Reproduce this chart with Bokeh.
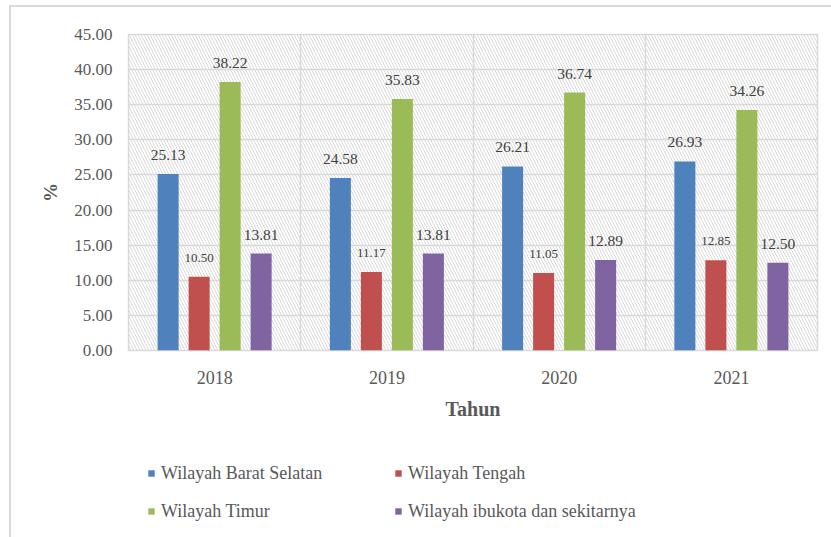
from bokeh.plotting import figure
from bokeh.layouts import column
from bokeh.models import (ColumnDataSource, LabelSet, Legend, LegendItem, BoxAnnotation,
                          FixedTicker, NumeralTickFormatter)
from bokeh.transform import dodge
from bokeh.embed import file_html
from bokeh.resources import INLINE

years = ["2018", "2019", "2020", "2021"]
barat_selatan = [25.13, 24.58, 26.21, 26.93]
tengah = [10.50, 11.17, 11.05, 12.85]
timur = [38.22, 35.83, 36.74, 34.26]
ibukota = [13.81, 13.81, 12.89, 12.50]
series_names = ["Wilayah Barat Selatan", "Wilayah Tengah", "Wilayah Timur",
                "Wilayah ibukota dan sekitarnya"]
series_values = [barat_selatan, tengah, timur, ibukota]
colors = ["#4F81BD", "#C0504D", "#9BBB59", "#8064A2"]
offsets = [-0.27, -0.09, 0.09, 0.27]
label_sizes = ["15.5px", "13px", "15.5px", "15.5px"]
y_ticks = [0, 5, 10, 15, 20, 25, 30, 35, 40, 45]

FONT = "Liberation Serif"

p = figure(x_range=years, y_range=(0, 45), frame_width=689, frame_height=316,
           output_backend="svg", toolbar_location=None,
           min_border_left=117, min_border_right=14, min_border_top=27,
           min_border_bottom=90)

# hatched plot-area background
p.add_layout(BoxAnnotation(fill_alpha=0, line_alpha=0, hatch_pattern="\\",
                           hatch_color="#d9d9d9", hatch_weight=1, hatch_scale=6,
                           level="image"))

src = ColumnDataSource(dict(year=years, **{f"s{i}": v for i, v in enumerate(series_values)},
                            **{f"t{i}": [f"{x:.2f}" for x in v] for i, v in enumerate(series_values)}))

for i, (col, off) in enumerate(zip(colors, offsets)):
    p.vbar(x=dodge("year", off, range=p.x_range), top=f"s{i}", width=0.122,
           source=src, fill_color=col, line_color=None)
    p.add_layout(LabelSet(x=dodge("year", off, range=p.x_range), y=f"s{i}", text=f"t{i}",
                          source=src, text_align="center", text_baseline="middle",
                          y_offset=19, text_font=FONT, text_font_size=label_sizes[i],
                          text_color="#404040"))

# grid
p.ygrid.ticker = FixedTicker(ticks=y_ticks)
p.ygrid.grid_line_color = "#d9d9d9"
p.ygrid.grid_line_width = 1.5
p.xgrid.ticker = FixedTicker(ticks=[1, 2, 3])
p.xgrid.grid_line_color = "#d9d9d9"
p.xgrid.grid_line_width = 1.5
p.outline_line_color = "#d9d9d9"
p.outline_line_width = 1.5

# y axis
p.yaxis.ticker = FixedTicker(ticks=y_ticks)
p.yaxis.formatter = NumeralTickFormatter(format="0.00")
p.yaxis.axis_line_color = None
p.yaxis.major_tick_line_color = None
p.yaxis.minor_tick_line_color = None
p.yaxis.major_label_standoff = 10
p.yaxis.major_label_text_font = FONT
p.yaxis.major_label_text_font_size = "17px"
p.yaxis.major_label_text_color = "#595959"
p.yaxis.axis_label = "%"
p.yaxis.axis_label_text_font = FONT
p.yaxis.axis_label_text_font_size = "19px"
p.yaxis.axis_label_text_font_style = "bold"
p.yaxis.axis_label_text_color = "#595959"
p.yaxis.axis_label_standoff = 10

# x axis
p.xaxis.axis_line_color = None
p.xaxis.major_tick_line_color = None
p.xaxis.major_label_standoff = 14
p.xaxis.major_label_text_font = FONT
p.xaxis.major_label_text_font_size = "18px"
p.xaxis.major_label_text_color = "#595959"
p.xaxis.axis_label = "Tahun"
p.xaxis.axis_label_text_font = FONT
p.xaxis.axis_label_text_font_size = "20px"
p.xaxis.axis_label_text_font_style = "bold"
p.xaxis.axis_label_text_color = "#595959"
p.xaxis.axis_label_standoff = 11

# legend panel (separate figure under the chart)
p2 = figure(width=820, height=97, x_range=years, y_range=(0, 1),
            output_backend="svg", toolbar_location=None,
            x_axis_location=None, y_axis_location=None,
            min_border_left=0, min_border_right=0, min_border_top=0, min_border_bottom=0)
p2.grid.visible = False
p2.outline_line_color = None
items = []
for i, (name, col) in enumerate(zip(series_names, colors)):
    r = p2.vbar(x="year", top=f"s{i}", width=0.1, source=src,
                fill_color=col, line_color=None, visible=False)
    items.append(LegendItem(label=name, renderers=[r]))
legend = Legend(items=items, orientation="horizontal", ncols=2, location=(19, 11),
                glyph_width=8, glyph_height=8, label_standoff=6, label_width=225,
                label_height=30, spacing=8, margin=0, padding=0,
                label_text_font=FONT, label_text_font_size="18px",
                label_text_color="#595959", border_line_alpha=0,
                background_fill_alpha=0, inactive_fill_alpha=0)
p2.add_layout(legend, "center")

layout = column(p, p2, spacing=0)
layout.styles = {"border-left": "2px solid #d9d9d9", "border-top": "2px solid #d9d9d9",
                 "margin-left": "9px", "margin-top": "5px"}

open("out.html", "w").write(file_html(layout, INLINE))
